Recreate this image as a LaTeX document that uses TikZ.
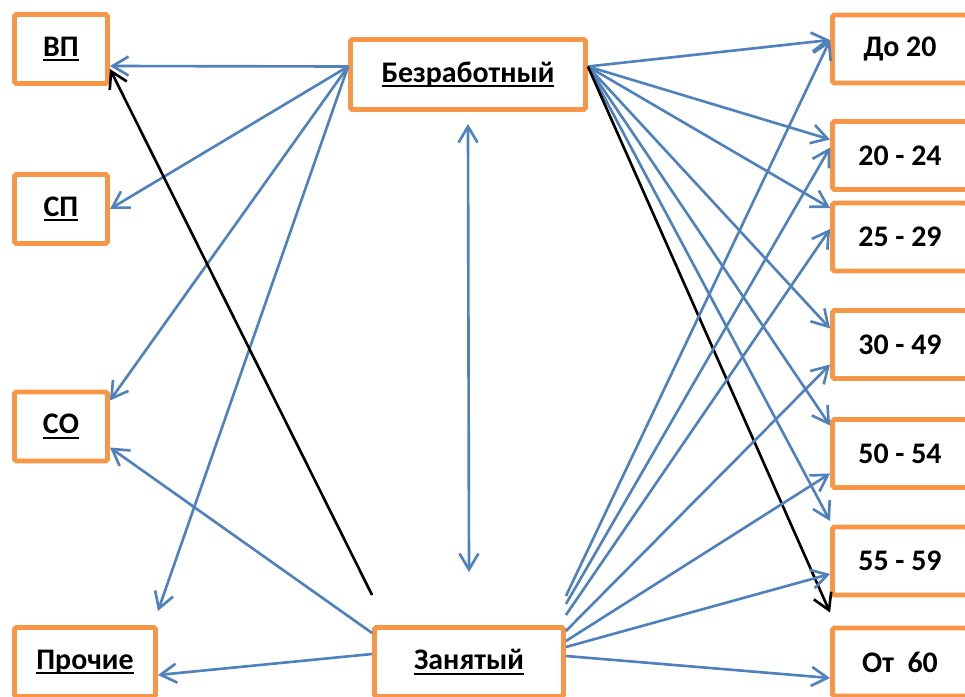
\documentclass[tikz,border=0pt]{standalone}
\usepackage{fontspec}
\setmainfont{Carlito}
\usepackage{tikz}
\usetikzlibrary{arrows.meta, calc}
\definecolor{boxorange}{HTML}{F79646}
\definecolor{linkblue}{HTML}{4F81BD}
\newcommand{\ulabel}[1]{\setbox0\hbox{#1}\rlap{\rule[-3pt]{\wd0}{1.3pt}}\box0}
\tikzstyle{statebox} = [rectangle, draw=boxorange, line width=2.8pt, rounded corners=1pt, fill=white, minimum width=1.86cm, minimum height=1.38cm, text centered, font=\fontsize{17}{20}\selectfont\bfseries]
\tikzstyle{agebox} = [statebox, minimum width=2.7cm, minimum height=1.36cm]
\tikzstyle{link} = [line width=1.5pt, draw=linkblue, -{Straight Barb[length=3.2mm,width=3.8mm]}]
\tikzstyle{blacklink} = [link, draw=black]

\begin{document}
\begin{tikzpicture}[x=0.02cm, y=-0.02cm]
\useasboundingbox (0,0) rectangle (965,697);

% Status Nodes
\node (bez) [statebox, minimum width=4.7cm, minimum height=1.4cm] at (468,74.5) {\ulabel{Безработный}};
\node (zan) [statebox, minimum width=3.78cm] at (469,662) {\ulabel{Занятый}};

% Left Nodes
\node (vp) [statebox] at (61,49) {\ulabel{ВП}};
\node (sp) [statebox] at (61,209) {\ulabel{СП}};
\node (co) [statebox] at (61,426.5) {\ulabel{СО}};
\node (proch) [statebox, minimum width=2.82cm] at (85,662) {\ulabel{Прочие}};

% Age Nodes
\node (do20) [agebox] at (900,49) {До 20};
\node (a20) [agebox] at (900,155.5) {20 - 24};
\node (a25) [agebox] at (900,237) {25 - 29};
\node (a30) [agebox] at (900,344.5) {30 - 49};
\node (a50) [agebox] at (900,453.5) {50 - 54};
\node (a55) [agebox] at (900,561) {55 - 59};
\node (ot60) [agebox] at (900,662) {От~~60};

% Arrows from Bez to the left
\draw [link] ($(bez.west)+(0,-8)$) -- ($(vp.east)+(0,17)$);
\draw [link] ($(bez.west)+(0,-8)$) -- (sp.east);
\draw [link] ($(bez.west)+(0,-8)$) -- ($(co.east)+(0,-26)$);
\draw [link] ($(bez.west)+(0,-8)$) -- ($(proch.north east)+(0,-14)$);

% Arrows from Bez to the ages
\draw [link] ($(bez.east)+(0,-8)$) -- ($(do20.west)+(0,-9)$);
\draw [link] ($(bez.east)+(0,-8)$) -- ($(a20.west)+(0,-16)$);
\draw [link] ($(bez.east)+(0,-8)$) -- ($(a25.west)+(0,-29)$);
\draw [link] ($(bez.east)+(0,-8)$) -- ($(a30.west)+(0,-16)$);
\draw [link] ($(bez.east)+(0,-8)$) -- ($(a50.west)+(0,-28)$);
\draw [link] ($(bez.east)+(0,-8)$) -- ($(a55.west)+(0,-40)$);
\draw [blacklink] ($(bez.east)+(0,-8)$) -- ($(ot60.north west)+(0,-13)$);

% Bez <-> Zan
\draw [link, {Straight Barb[length=3.2mm,width=3.8mm]}-{Straight Barb[length=3.2mm,width=3.8mm]}] ($(bez.south)+(0,12)$) -- ($(zan.north)+(0,-53)$);

% Arrows from Zan to the left
\draw [link] ($(zan.west)+(0,-29)$) -- ($(co.east)+(0,21)$);
\draw [link] ($(zan.west)+(0,-8)$) -- ($(proch.east)+(0,13)$);
\draw [blacklink] ($(zan.west)+(0,-67)$) -- ($(vp.east)+(0,20)$);

% Arrows from Zan to the ages
\draw [link] ($(zan.east)+(0,-66)$) -- ($(do20.west)+(0,-9)$);
\draw [link] ($(zan.east)+(0,-58)$) -- ($(a20.west)+(0,-8)$);
\draw [link] ($(zan.east)+(0,-47)$) -- ($(a25.west)+(0,-8)$);
\draw [link] ($(zan.east)+(0,-31)$) -- ($(a30.west)+(0,20)$);
\draw [link] ($(zan.east)+(0,-21)$) -- ($(a50.west)+(0,20)$);
\draw [link] ($(zan.east)+(0,-15)$) -- ($(a55.west)+(0,13)$);
\draw [link] ($(zan.east)+(0,-6)$) -- ($(ot60.west)+(0,16)$);

\end{tikzpicture}
\end{document}
